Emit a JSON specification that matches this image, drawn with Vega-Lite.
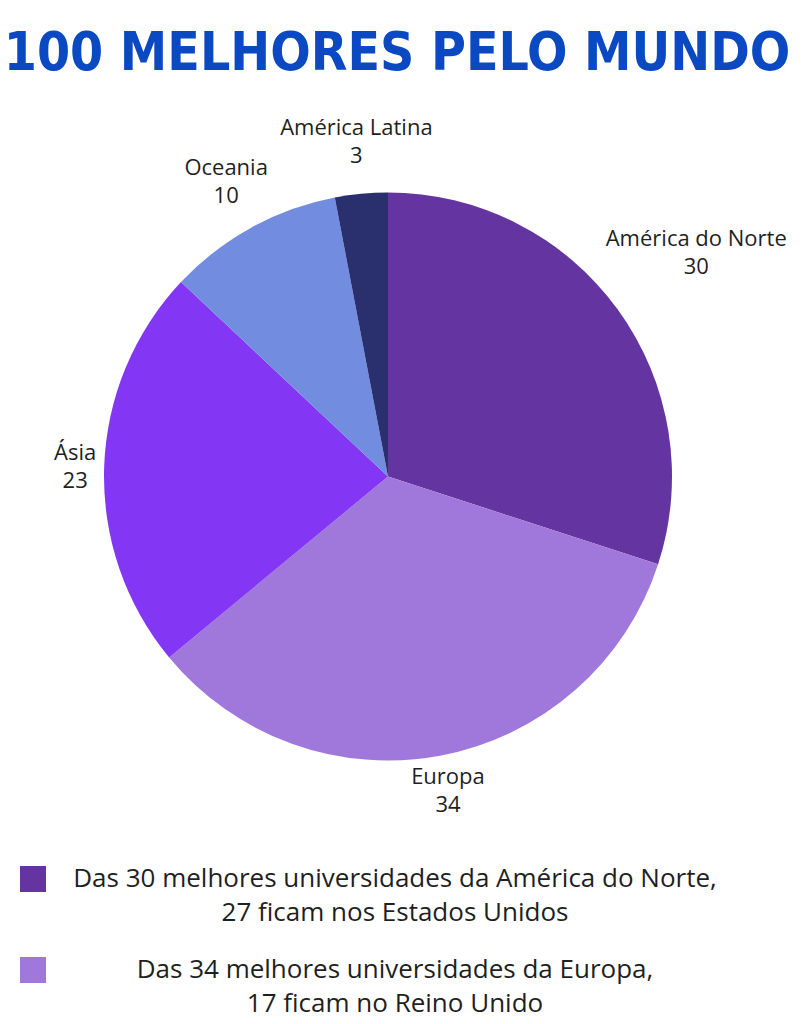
{
  "$schema": "https://vega.github.io/schema/vega-lite/v6.json",
  "width": 776,
  "height": 715,
  "padding": {"left": 0, "top": 28, "right": 0, "bottom": 0},
  "background": "white",
  "title": {
    "text": "100 MELHORES PELO MUNDO",
    "font": "DejaVu Sans Condensed, sans-serif",
    "fontWeight": "bold",
    "fontSize": 53,
    "color": "#0a49c2",
    "anchor": "middle",
    "offset": -9,
    "dx": 9
  },
  "config": {
    "view": {"stroke": null},
    "style": {"guide-label": {"lineHeight": 34}}
  },
  "data": {
    "values": [
      {"regiao": "América do Norte", "valor": 30, "ordem": 1},
      {"regiao": "Europa", "valor": 34, "ordem": 2},
      {"regiao": "Ásia", "valor": 23, "ordem": 3},
      {"regiao": "Oceania", "valor": 10, "ordem": 4},
      {"regiao": "América Latina", "valor": 3, "ordem": 5}
    ]
  },
  "encoding": {
    "theta": {"field": "valor", "type": "quantitative", "stack": true},
    "order": {"field": "ordem", "type": "quantitative"}
  },
  "layer": [
    {
      "mark": {"type": "arc", "radius": 284},
      "encoding": {
        "color": {
          "field": "regiao",
          "type": "nominal",
          "scale": {
            "domain": ["América do Norte", "Europa", "Ásia", "Oceania", "América Latina"],
            "range": ["#6435a0", "#a077db", "#8436f5", "#728de0", "#2a2f6e"]
          },
          "legend": {
            "orient": "none",
            "legendX": 20,
            "legendY": 747,
            "padding": 0,
            "title": null,
            "values": ["América do Norte", "Europa"],
            "direction": "vertical",
            "symbolType": "square",
            "symbolSize": 676,
            "symbolStrokeWidth": 0,
            "symbolOpacity": 1,
            "labelFont": "Open Sans",
            "labelFontSize": 26,
            "labelColor": "#1f1f1f",
            "labelAlign": "center",
            "labelBaseline": "middle",
            "labelOffset": 349,
            "labelLimit": 0,
            "rowPadding": 31,
            "labelExpr": "datum.value === 'América do Norte' ? ['Das 30 melhores universidades da América do Norte,', '27 ficam nos Estados Unidos'] : ['Das 34 melhores universidades da Europa,', '17 ficam no Reino Unido']"
          }
        }
      }
    },
    {
      "mark": {"type": "text", "font": "Open Sans", "fontSize": 22, "color": "#1f1f1f", "radius": 381, "dy": -14},
      "encoding": {"text": {"condition": {"test": "datum.regiao === 'América do Norte'", "field": "regiao", "type": "nominal"}, "value": ""}}
    },
    {
      "mark": {"type": "text", "font": "Open Sans", "fontSize": 22, "color": "#1f1f1f", "radius": 381, "dy": 14},
      "encoding": {"text": {"condition": {"test": "datum.regiao === 'América do Norte'", "field": "valor", "type": "quantitative"}, "value": ""}}
    },
    {
      "mark": {"type": "text", "font": "Open Sans", "fontSize": 22, "color": "#1f1f1f", "radius": 320, "dy": -14},
      "encoding": {"text": {"condition": {"test": "datum.regiao === 'Europa'", "field": "regiao", "type": "nominal"}, "value": ""}}
    },
    {
      "mark": {"type": "text", "font": "Open Sans", "fontSize": 22, "color": "#1f1f1f", "radius": 320, "dy": 14},
      "encoding": {"text": {"condition": {"test": "datum.regiao === 'Europa'", "field": "valor", "type": "quantitative"}, "value": ""}}
    },
    {
      "mark": {"type": "text", "font": "Open Sans", "fontSize": 22, "color": "#1f1f1f", "radius": 313, "dy": -14},
      "encoding": {"text": {"condition": {"test": "datum.regiao === 'Ásia'", "field": "regiao", "type": "nominal"}, "value": ""}}
    },
    {
      "mark": {"type": "text", "font": "Open Sans", "fontSize": 22, "color": "#1f1f1f", "radius": 313, "dy": 14},
      "encoding": {"text": {"condition": {"test": "datum.regiao === 'Ásia'", "field": "valor", "type": "quantitative"}, "value": ""}}
    },
    {
      "mark": {"type": "text", "font": "Open Sans", "fontSize": 22, "color": "#1f1f1f", "radius": 336, "dy": -14},
      "encoding": {"text": {"condition": {"test": "datum.regiao === 'Oceania' || datum.regiao === 'América Latina'", "field": "regiao", "type": "nominal"}, "value": ""}}
    },
    {
      "mark": {"type": "text", "font": "Open Sans", "fontSize": 22, "color": "#1f1f1f", "radius": 336, "dy": 14},
      "encoding": {"text": {"condition": {"test": "datum.regiao === 'Oceania' || datum.regiao === 'América Latina'", "field": "valor", "type": "quantitative"}, "value": ""}}
    }
  ]
}
